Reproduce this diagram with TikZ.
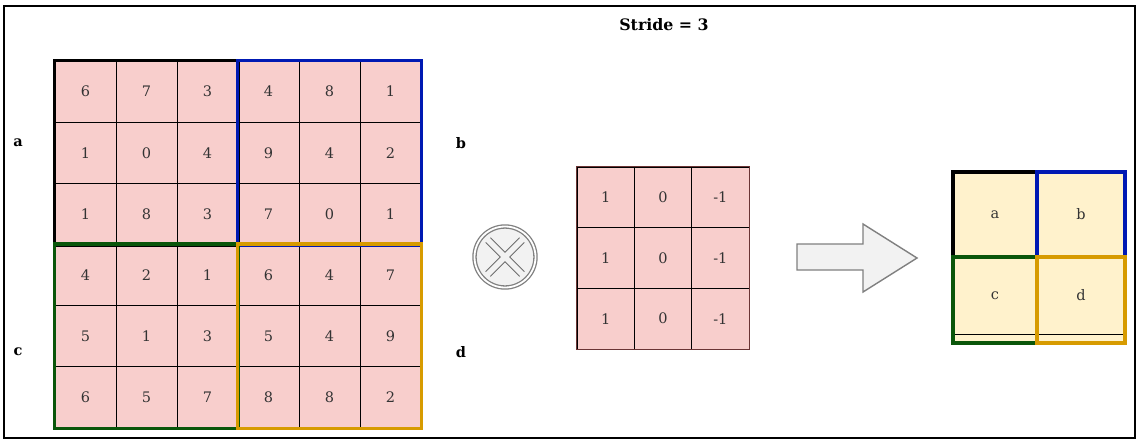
\documentclass[tikz,border=0pt]{standalone}
\usepackage{fontspec}
\setmainfont{DejaVu Serif}
\usetikzlibrary{calc}
\definecolor{cellpink}{HTML}{F8CECC}
\definecolor{cellbeige}{HTML}{FFF2CC}
\definecolor{qblue}{HTML}{0019B3}
\definecolor{qgreen}{HTML}{0A560A}
\definecolor{qgold}{HTML}{D79B00}
\definecolor{kborder}{HTML}{6B3535}
\definecolor{txt}{HTML}{333333}
\definecolor{lightgray}{HTML}{F2F2F2}
\definecolor{midgray}{HTML}{808080}
\definecolor{xgray}{HTML}{6E6E6E}
\tikzset{
  gcell/.style={draw=black, fill=cellpink, line width=0.8pt, minimum width=61pt, minimum height=61.17pt, inner sep=0pt, font=\fontsize{14.5}{14.5}\selectfont, text=txt},
  kcell/.style={draw=black, fill=cellpink, line width=0.8pt, minimum width=57.33pt, minimum height=60.67pt, inner sep=0pt, font=\fontsize{14.5}{14.5}\selectfont, text=txt},
  ocell/.style={fill=cellbeige, inner sep=0pt, font=\fontsize{14.5}{14.5}\selectfont, text=txt},
  quad/.style={line width=3.6pt},
  lbl/.style={font=\bfseries\fontsize{14.5}{14.5}\selectfont, text=black},
}
\begin{document}
\begin{tikzpicture}[x=1pt,y=-1pt]
\useasboundingbox (0,0) rectangle (1141,440);
\fill[white] (0,0) rectangle (1141,440);
\draw[line width=2pt] (4,6) rectangle (1135,438);
\node[font=\bfseries\fontsize{15.8}{15.8}\selectfont] (title) at (664,25) {Stride = 3};
% big input grid
\foreach \r/\row in {0/{6,7,3,4,8,1},1/{1,0,4,9,4,2},2/{1,8,3,7,0,1},3/{4,2,1,6,4,7},4/{5,1,3,5,4,9},5/{6,5,7,8,8,2}}{
  \foreach \v [count=\c from 0] in \row {
    \node[gcell] (g-\r-\c) at ({55+61*\c+30.5},{61+61.17*\r+30.58}) {\v};
  }
}
\draw[quad, black] (g-0-0.north west) rectangle (g-2-2.south east);
\draw[quad, qblue] (g-0-3.north west) rectangle (g-2-5.south east);
\draw[quad, qgreen] (g-3-0.north west) rectangle (g-5-2.south east);
\draw[quad, qgold] (g-3-3.north west) rectangle (g-5-5.south east);
\node[lbl] (la) at (18,143) {a};
\node[lbl] (lb) at (461,143) {b};
\node[lbl] (lc) at (18,352) {c};
\node[lbl] (ld) at (461,352) {d};
% convolution symbol
\node[circle, draw=midgray, double=white, double distance=1.8pt, line width=1.3pt, fill=lightgray, minimum size=61pt, inner sep=0pt] (op) at (505,257) {};
\draw[xgray, line width=7.5pt] ($(op)+(-17,-17)$) -- ($(op)+(17,17)$) ($(op)+(-17,17)$) -- ($(op)+(17,-17)$);
\draw[lightgray, line width=5.5pt] ($(op)+(-17.8,-17.8)$) -- ($(op)+(17.8,17.8)$) ($(op)+(-17.8,17.8)$) -- ($(op)+(17.8,-17.8)$);
% kernel
\foreach \r in {0,1,2}{
  \foreach \v [count=\c from 0] in {1,0,-1}{
    \node[kcell] (k-\r-\c) at ({577+57.33*\c+28.67},{167+60.67*\r+30.33}) {\v};
  }
}
\draw[kborder, line width=1.6pt] (k-0-0.north west) rectangle (k-2-2.south east);
% arrow
\draw[midgray, fill=lightgray, line width=1.4pt, line join=miter] (797,244) -- (863,244) -- (863,224) -- (917,258) -- (863,292) -- (863,270) -- (797,270) -- cycle;
% output grid
\fill[cellbeige] (953,172) rectangle (1125,343);
\node[ocell, minimum width=84pt, minimum height=85pt] (oa) at (995,214.5) {a};
\node[ocell, minimum width=88pt, minimum height=85pt] (ob) at (1081,214.5) {b};
\node[ocell, minimum width=84pt, minimum height=77pt] (oc) at (995,295.5) {c};
\node[ocell, minimum width=88pt, minimum height=77pt] (od) at (1081,295.5) {d};
\draw[black, line width=0.8pt] (oa.south west) -- (ob.south east);
\draw[black, line width=0.8pt] (oc.south west) -- (od.south east);
\draw[black, line width=0.8pt] (oa.north east) -- (oc.south east);
\coordinate (obot-l) at (953,343);
\coordinate (obot-r) at (1125,343);
\draw[quad, black] (oa.north west) rectangle (oa.south east);
\draw[quad, qblue] (ob.north west) rectangle (ob.south east);
\draw[quad, qgreen] (oc.north west) rectangle (oc.south east |- obot-l);
\draw[quad, qgold] (od.north west) rectangle (obot-r);
\end{tikzpicture}
\end{document}
